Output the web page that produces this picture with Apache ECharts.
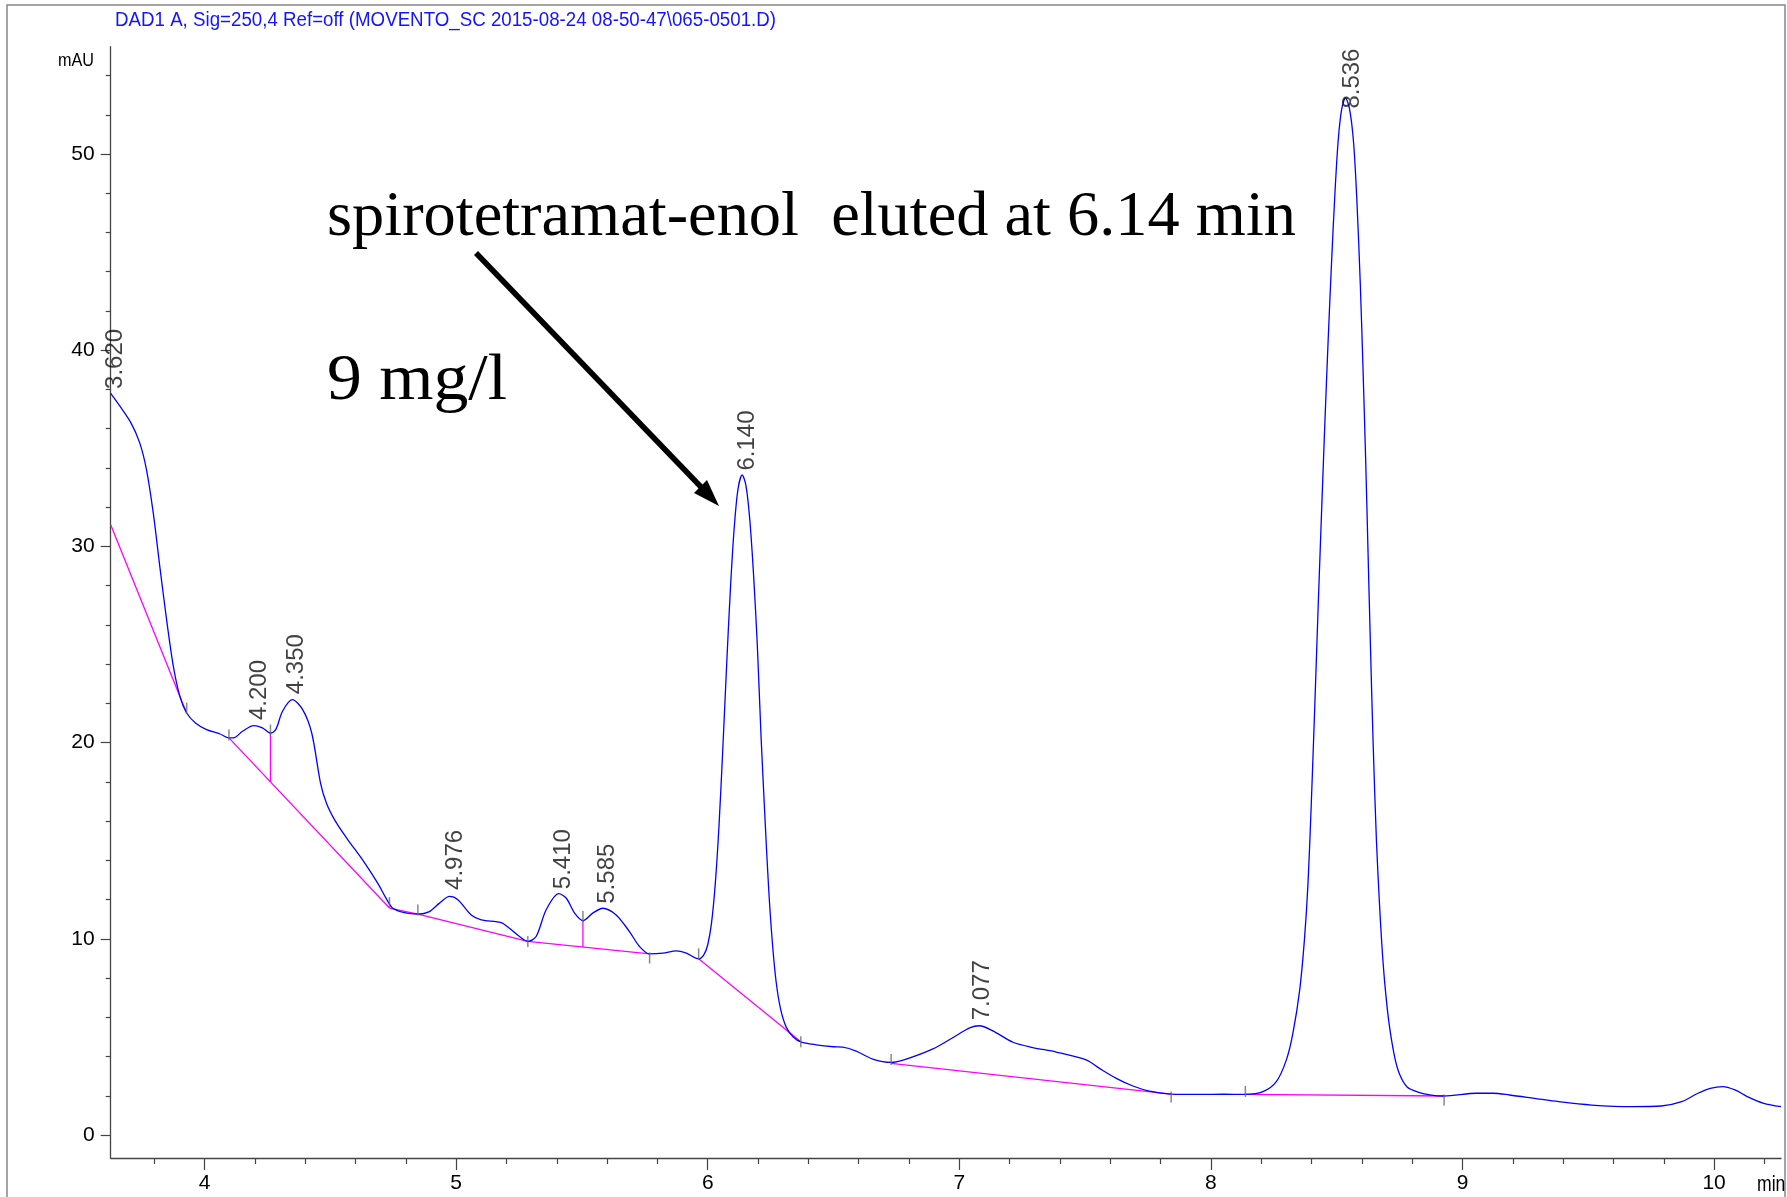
<!DOCTYPE html>
<html><head><meta charset="utf-8">
<script src="https://cdn.jsdelivr.net/npm/echarts@6/dist/echarts.min.js"></script>
<style>html,body{margin:0;padding:0;background:#fff}#c{width:1787px;height:1197px}</style>
</head><body><div id="c"></div>
<script>
// ---- chromatogram trace (retention time in min, signal in mAU) ----
const traceTime = [
 3.627,3.663,3.707,3.742,3.769,3.796,3.822,3.849,3.876,3.902,3.929,3.964,4.008,4.062,4.097,4.115,4.151,4.195,4.230,4.262,
 4.283,4.310,4.349,4.390,4.426,4.461,4.485,4.520,4.567,4.635,4.690,4.720,4.745,4.775,4.810,4.848,4.894,4.934,4.974,5.007,5.060,
 5.100,5.179,5.212,5.252,5.285,5.318,5.358,5.408,5.438,5.471,5.504,5.543,5.583,5.636,5.689,5.729,5.769,5.822,5.875,5.915,
 5.964,5.985,6.000,6.015,6.030,6.045,6.060,6.075,6.090,6.105,6.120,6.137,6.152,6.167,6.182,6.197,6.212,6.227,6.242,6.257,6.272,6.290,6.312,
 6.340,6.370,6.431,6.500,6.537,6.590,6.656,6.729,6.789,6.895,6.974,7.041,7.080,7.133,7.213,7.292,7.385,7.504,7.557,7.624,
 7.690,7.756,7.842,7.955,8.050,8.137,8.207,8.260,8.300,8.326,8.353,8.372,8.386,8.399,8.413,8.426,8.440,8.453,8.466,8.480,
 8.493,8.506,8.520,8.535,8.551,8.567,8.580,8.594,8.604,8.615,8.624,8.634,8.645,8.658,8.670,8.680,8.692,8.708,8.730,8.750,
 8.780,8.820,8.870,8.927,9.057,9.122,9.187,9.285,9.382,9.513,9.675,9.790,9.871,9.936,9.985,10.034,10.083,10.132,10.197,10.266
];
const traceMAU = [
 37.80,37.16,36.31,35.29,33.93,31.72,29.00,26.28,23.89,22.36,21.51,21.00,20.66,20.44,20.24,20.24,20.58,20.87,20.75,20.49,
 20.66,21.60,22.19,21.68,20.49,17.94,16.90,16.00,15.10,13.90,12.80,12.10,11.60,11.40,11.30,11.26,11.39,11.82,12.16,11.99,11.22,
 10.97,10.83,10.54,10.12,9.87,10.12,11.48,12.30,12.07,11.31,10.93,11.31,11.56,11.22,10.37,9.61,9.23,9.27,9.39,9.27,
 8.98,9.20,9.70,10.80,12.80,15.80,19.70,23.90,27.80,30.90,32.90,33.64,33.10,31.40,28.60,25.00,20.30,16.30,12.60,9.80,7.80,6.40,5.50,
 5.00,4.75,4.60,4.50,4.48,4.28,3.87,3.70,3.87,4.39,4.96,5.46,5.57,5.31,4.73,4.46,4.23,3.83,3.40,2.89,
 2.50,2.24,2.09,2.07,2.08,2.07,2.21,2.72,3.83,5.19,7.40,10.00,12.84,16.90,21.90,26.80,31.80,36.30,40.50,44.60,
 48.00,50.70,52.30,52.85,52.30,50.60,47.70,43.30,39.30,34.50,30.00,25.00,19.90,15.00,11.80,9.60,7.60,5.70,4.00,3.10,
 2.45,2.20,2.05,1.99,2.13,2.13,2.04,1.87,1.70,1.53,1.45,1.48,1.70,2.13,2.38,2.47,2.30,1.96,1.62,1.45
];

// ---- integration baselines (magenta) ----
const baselineSegments = [
 [[3.627,31.10],[3.929,21.50]],
 [[4.097,20.24],[4.735,11.57]],
 [[4.735,11.57],[4.848,11.26],[5.285,9.87]],
 [[5.285,9.87],[5.769,9.23]],
 [[4.262,20.49],[4.262,18.00]],
 [[5.504,10.93],[5.504,9.58]],
 [[5.964,8.98],[6.370,4.75]],
 [[6.729,3.65],[7.842,2.09]],
 [[8.137,2.07],[8.927,1.99]]
];

// ---- peak start/end marks ----
const markTimes  = [3.929,4.097,4.262,4.735,4.848,5.285,5.504,5.769,5.964,6.370,6.729,7.842,8.137,8.927];
const markLevels = [21.50,20.24,20.49,11.70,11.26,9.87,10.93,9.23,8.98,4.75,3.70,2.09,2.07,1.99];

// ---- peak retention-time labels ----
const peakLabels  = ['3.620','4.200','4.350','4.976','5.410','5.585','6.140','7.077','8.536'];
const peakTimes   = [3.620,4.200,4.350,4.976,5.410,5.585,6.140,7.077,8.536];
const peakHeights = [37.80,20.87,22.19,12.16,12.30,11.56,33.64,5.57,52.85];

// ---- axes ticks ----
const xMajorTicks = [4,5,6,7,8,9,10];
const xMinorTicks = [3.8,4.2,4.4,4.6,4.8,5.2,5.4,5.6,5.8,6.2,6.4,6.6,6.8,7.2,7.4,7.6,7.8,8.2,8.4,8.6,8.8,9.2,9.4,9.6,9.8,10.2];
const yMajorTicks = [0,10,20,30,40,50];
const yMinorTicks = [2,4,6,8,12,14,16,18,22,24,26,28,32,34,36,38,42,44,46,48,52,54];

// ---------------- styling / layout ----------------
const SANS = "'Liberation Sans',Arial,sans-serif";
const SERIF = "'Liberation Serif','Times New Roman',serif";
const X_MIN = 3.627, X_MAX = 10.266, Y_MIN = -1.17, Y_MAX = 55.47;
const markOffsets = [-5,-3,-3,-3,-4,0,-4,4,-5,0,-3,3,-3,4];
// label is rotated 90deg about its anchor, so offset [a,b] moves it right by b, up by a
const labelOffsets = [[0,6],[0,5],[0,4],[0,5],[0,4],[0,4],[0,4],[0,4],[0,7]];
const labelDistances = [4,5,5,6,4,4,4,5,-11];

const mctx = document.createElement('canvas').getContext('2d');
function fitScale(text, font, targetWidth) {
  mctx.font = font;
  return targetWidth / mctx.measureText(text).width;
}

const axisCol = '#444';
function xAxisDef(ticks, len, showLine, showLabel) {
  return {
    type:'value', min:X_MIN, max:X_MAX, position:'bottom',
    axisLine:{show:showLine, onZero:false, lineStyle:{color:axisCol, width:1.3}},
    axisTick:{show:true, length:len, customValues:ticks, lineStyle:{color:axisCol, width:1.2}},
    axisLabel:{show:showLabel, customValues:ticks, margin:15, color:'#000', fontSize:21, fontFamily:SANS},
    splitLine:{show:false}
  };
}
function yAxisDef(ticks, len, showLine, showLabel) {
  return {
    type:'value', min:Y_MIN, max:Y_MAX, position:'left',
    axisLine:{show:showLine, onZero:false, lineStyle:{color:axisCol, width:1.3}},
    axisTick:{show:true, length:len, customValues:ticks, lineStyle:{color:axisCol, width:1.2}},
    axisLabel:{show:showLabel, customValues:ticks, margin:16, color:'#000', fontSize:21, fontFamily:SANS},
    splitLine:{show:false}
  };
}

const traceData = traceTime.map((t,i)=>[t, traceMAU[i]]);
const series = [];
baselineSegments.forEach(seg => series.push({
  type:'line', data:seg, symbol:'none', silent:true, z:2,
  lineStyle:{color:'#ff00ff', width:1.3}
}));
series.push({
  type:'line', data:traceData, symbol:'none', smooth:0.3, z:3,
  lineStyle:{color:'#0000ff', width:1.3}
});
series.push({
  type:'scatter', z:4, silent:true,
  data: markTimes.map((t,i)=>({value:[t, markLevels[i]], symbolOffset:[0, markOffsets[i]]})),
  symbol:'rect', symbolSize:[1.5, 11], itemStyle:{color:'#6a6a6a'}
});
series.push({
  type:'scatter', z:5, silent:true, clip:false,
  data: peakTimes.map((t,i)=>({
    value:[t, peakHeights[i]],
    label:{offset:labelOffsets[i], distance:labelDistances[i]}
  })),
  symbolSize:1, itemStyle:{color:'rgba(0,0,0,0)'},
  label:{show:true, position:'top', rotate:90, align:'left', verticalAlign:'middle',
    fontSize:24, color:'#111', fontFamily:SANS,
    formatter: p => peakLabels[p.dataIndex]}
});

const titleText = 'DAD1 A, Sig=250,4 Ref=off (MOVENTO_SC 2015-08-24 08-50-47\\065-0501.D)';
const titleFont = "20px " + SANS;
const mauFont = "19px " + SANS;
const minFont = "22px " + SANS;
const noteText = 'spirotetramat-enol  eluted at 6.14 min';
const noteFont = "64px " + SERIF;
const concText = '9 mg/l';
const concFont = "65px " + SERIF;

const chart = echarts.init(document.getElementById('c'), null, {renderer:'canvas'});
chart.setOption({
  backgroundColor:'#fff',
  animation:false,
  grid:{left:110.7, right:6, top:46.7, bottom:39, containLabel:false},
  xAxis:[xAxisDef(xMajorTicks,12,true,true), xAxisDef(xMinorTicks,6,false,false)],
  yAxis:[yAxisDef(yMajorTicks,10,true,true), yAxisDef(yMinorTicks,5,false,false)],
  series:series,
  graphic:[
    {type:'polyline', shape:{points:[[7,1197],[7,5],[1785,5],[1785,1197]]}, style:{stroke:'#888', lineWidth:1.5, fill:null}, silent:true},
    {type:'text', x:115, y:20, scaleX:fitScale(titleText,titleFont,661), style:{text:titleText, fill:'#1414ff', font:titleFont, verticalAlign:'middle'}},
    {type:'text', x:58, y:61, scaleX:fitScale('mAU',mauFont,36), style:{text:'mAU', fill:'#000', font:mauFont, verticalAlign:'middle'}},
    {type:'text', x:1757, y:1185, scaleX:0.8, style:{text:'min', fill:'#000', font:minFont, verticalAlign:'middle'}},
    {type:'text', x:327, y:218, scaleX:fitScale(noteText,noteFont,969), style:{text:noteText, fill:'#000', font:noteFont, verticalAlign:'middle'}},
    {type:'text', x:327, y:382, scaleX:fitScale(concText,concFont,180), style:{text:concText, fill:'#000', font:concFont, verticalAlign:'middle'}},
    {type:'line', shape:{x1:476, y1:253, x2:702, y2:488}, style:{stroke:'#000', lineWidth:5.5}},
    {type:'polygon', shape:{points:[[719,506],[707,480],[694,493]]}, style:{fill:'#000'}}
  ]
});
</script></body></html>
